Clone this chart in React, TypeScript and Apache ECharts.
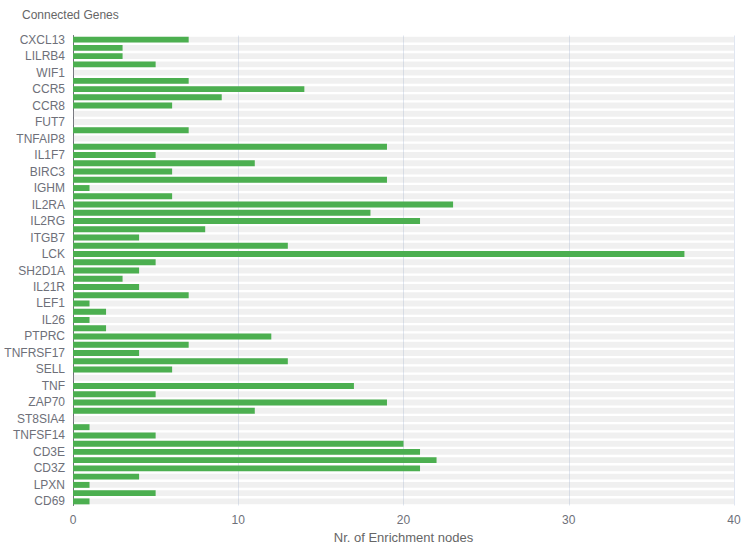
import React, { useEffect, useRef } from "react";
import * as echarts from "echarts";

const genes: string[] = [
  "CXCL13", "CCL19", "LILRB4", "CD79A", "WIF1", "CCL5", "CCR5", "CCR7", "CCR8", "FCRL5",
  "FUT7", "CD27", "TNFAIP8", "IL7R", "IL1F7", "CD38", "BIRC3", "CD2", "IGHM", "CD247",
  "IL2RA", "CD28", "IL2RG", "GZMB", "ITGB7", "CTLA4", "LCK", "ICOS", "SH2D1A", "IL21",
  "IL21R", "PRF1", "LEF1", "TCF7", "IL26", "IL17A", "PTPRC", "CD40LG", "TNFRSF17", "CD3D",
  "SELL", "POU2AF1", "TNF", "CD8A", "ZAP70", "CD4", "ST8SIA4", "MZB1", "TNFSF14", "CD3G",
  "CD3E", "FYN", "CD3Z", "LAT", "LPXN", "CD5", "CD69",
];

const enrichmentNodes: number[] = [
  7, 3, 3, 5, 0, 7, 14, 9, 6, 0,
  0, 7, 0, 19, 5, 11, 6, 19, 1, 6,
  23, 18, 21, 8, 4, 13, 37, 5, 4, 3,
  4, 7, 1, 2, 1, 2, 12, 7, 4, 13,
  6, 0, 17, 5, 19, 11, 0, 1, 5, 20,
  21, 22, 21, 4, 1, 5, 1,
];

const xTicks = { min: 0, max: 40, interval: 10 };

export default function App() {
  const ref = useRef<HTMLDivElement>(null);
  useEffect(() => {
    if (!ref.current) return;
    const chart = echarts.init(ref.current, undefined, { renderer: "svg" });
    chart.setOption({
      animation: false,
      title: {
        text: "Connected Genes",
        left: 22,
        top: 9,
        padding: 0,
        textStyle: { fontSize: 12, fontWeight: "normal", color: "#666" },
      },
      grid: {
        left: 73,
        right: 13,
        top: 35.5,
        bottom: 48.5,
        containLabel: false,
        outerBoundsMode: "none",
      },
      xAxis: {
        type: "value",
        min: xTicks.min,
        max: xTicks.max,
        interval: xTicks.interval,
        name: "Nr. of Enrichment nodes",
        nameLocation: "middle",
        nameGap: 25,
        nameTextStyle: { color: "#666", fontSize: 13 },
        axisLabel: { color: "#6E7079", fontSize: 12 },
        splitLine: { lineStyle: { color: "#E0E6F1" } },
        axisLine: { show: false },
      },
      yAxis: {
        type: "category",
        data: genes,
        inverse: true,
        axisLabel: { interval: 1, color: "#6E7079", fontSize: 12 },
        axisLine: { lineStyle: { color: "#6E7079" } },
        axisTick: { lineStyle: { color: "#6E7079" } },
      },
      series: [
        {
          type: "bar",
          data: enrichmentNodes,
          barWidth: "72%",
          showBackground: true,
          backgroundStyle: { color: "rgba(180,180,180,0.2)" },
          itemStyle: { color: "#4CAF50" },
        },
      ],
    });
    return () => chart.dispose();
  }, []);
  return (
    <div
      ref={ref}
      style={{ position: "absolute", left: 0, top: 0, width: 747, height: 554 }}
    />
  );
}
